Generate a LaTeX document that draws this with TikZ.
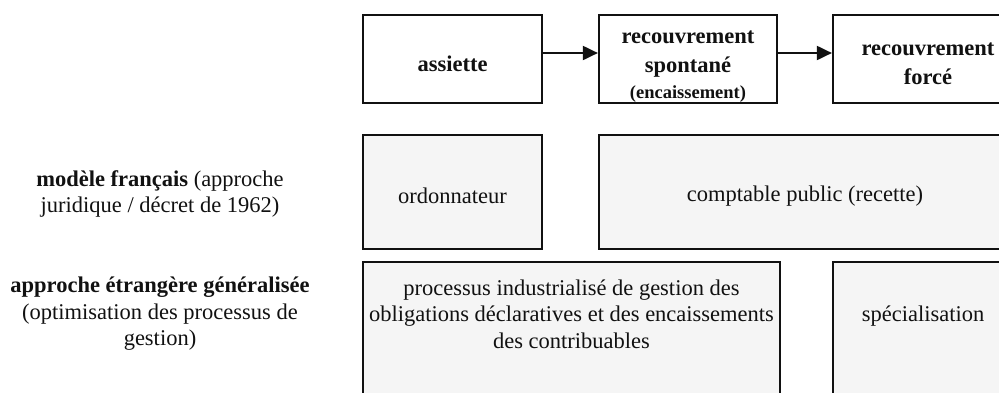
\documentclass[tikz,border=0pt]{standalone}
\usepackage{fontspec}
\setmainfont{Liberation Serif}
\usetikzlibrary{arrows.meta}
\definecolor{boxfill}{HTML}{F5F5F5}
\definecolor{ink}{HTML}{111111}
\begin{document}
\begin{tikzpicture}[x=1pt,y=-1pt,
  every node/.style={inner sep=0pt, text=ink},
  topbox/.style={draw=ink, line width=2.2pt, fill=white, minimum height=88pt},
  greybox/.style={draw=ink, line width=2.2pt, fill=boxfill, minimum height=114pt},
  lowbox/.style={draw=ink, line width=2.2pt, fill=boxfill, minimum height=140pt},
  lbl/.style={font=\fontsize{22.5}{26.5}\selectfont, align=center},
  blbl/.style={font=\bfseries\fontsize{22.5}{29}\selectfont, align=center},
  flow/.style={draw=ink, line width=2pt, -{Triangle[length=15pt,width=14pt]}}]
\useasboundingbox (0,0) rectangle (999,392);
\clip (0,0) rectangle (999,392);
% top row
\node[topbox, minimum width=179pt] (assiette) at (452.5,59) {};
\node[blbl] (tassiette) at (452.5,64) {assiette};
\node[topbox, minimum width=178pt] (spont) at (688,59) {};
\node[blbl] (tspont) at (688,67) {recouvrement\\spontané\\[-3pt]{\fontsize{18.5}{22}\selectfont (encaissement)}};
\node[topbox, minimum width=207pt] (force) at (936.5,59) {};
\node[blbl] (tforce) at (928,64) {recouvrement\\forcé};
\draw[flow] ([yshift=6pt]assiette.east) -- ([yshift=6pt]spont.west);
\draw[flow] ([yshift=6pt]spont.east) -- ([yshift=6pt]force.west);
% second row
\node[lbl] (modfr) at (160,194) {\textbf{modèle français} (approche\\juridique / décret de 1962)};
\node[greybox, minimum width=179pt] (ordo) at (452.5,192) {};
\node[lbl] (tordo) at (452.5,196) {ordonnateur};
\node[greybox, minimum width=441pt] (compt) at (819.5,192) {};
\node[lbl] (tcompt) at (805,196) {comptable public (recette)};
% third row
\node[lbl] (etr) at (160,314) {\textbf{approche étrangère généralisée}\\(optimisation des processus de\\gestion)};
\node[lowbox, minimum width=417pt] (proc) at (571.5,332) {};
\node[lbl] (tproc) at (571.5,314) {processus industrialisé de gestion des\\obligations déclaratives et des encaissements\\des contribuables};
\node[lowbox, minimum width=207pt] (spec) at (936.5,332) {};
\node[lbl] (tspec) at (923,316) {spécialisation};
\end{tikzpicture}
\end{document}
